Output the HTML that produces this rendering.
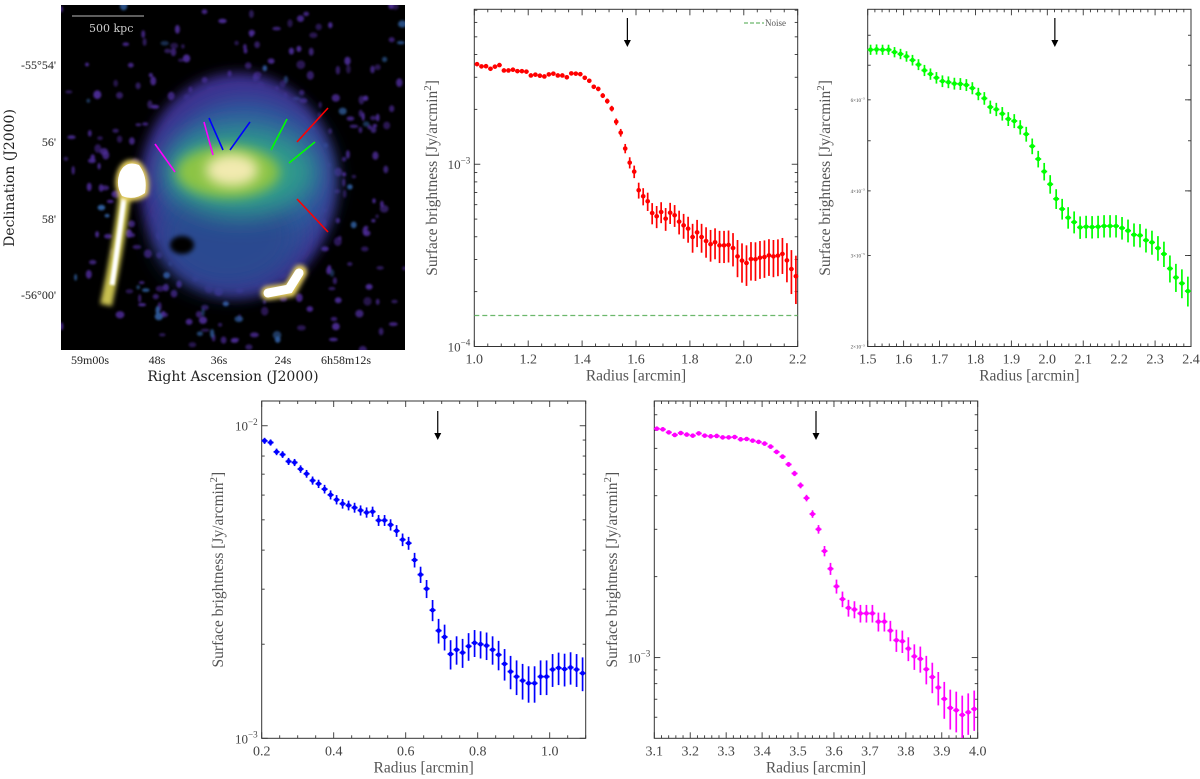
<!DOCTYPE html>
<html><head><meta charset="utf-8"><style>
html,body{margin:0;padding:0;background:#fff;}
svg{display:block;}
text{font-family:"Liberation Serif","DejaVu Serif",serif;}
</style></head><body>
<svg id="fig" width="1200" height="779" viewBox="0 0 1200 779" xmlns="http://www.w3.org/2000/svg">
<defs>
<filter id="b6" x="-50%" y="-50%" width="200%" height="200%"><feGaussianBlur stdDeviation="6"/></filter>
<filter id="b12" x="-50%" y="-50%" width="200%" height="200%"><feGaussianBlur stdDeviation="12"/></filter>
<filter id="b3" x="-50%" y="-50%" width="200%" height="200%"><feGaussianBlur stdDeviation="2.5"/></filter>
<filter id="b1" x="-50%" y="-50%" width="200%" height="200%"><feGaussianBlur stdDeviation="1"/></filter>
<clipPath id="imgclip"><rect x="61" y="5" width="344" height="345"/></clipPath>
</defs>
<g>
 <rect x="61" y="5" width="344" height="345" fill="#000"/>
 <g clip-path="url(#imgclip)">
  <g id="speckles" filter="url(#b1)"></g>
  <ellipse cx="238" cy="185" rx="98" ry="112" fill="#3d2f8e" filter="url(#b6)"/>
  <ellipse cx="245" cy="180" rx="85" ry="82" fill="#2d5a9e" filter="url(#b12)"/>
  <ellipse cx="228" cy="235" rx="70" ry="55" fill="#2c4a90" filter="url(#b12)"/>
  <ellipse cx="240" cy="172" rx="75" ry="45" fill="#2f9a8c" filter="url(#b12)"/>
  <ellipse cx="228" cy="172" rx="52" ry="26" fill="#8cc445" filter="url(#b6)"/>
  <ellipse cx="232" cy="170" rx="26" ry="16" fill="#f2eab0" filter="url(#b6)"/>
  <ellipse cx="182" cy="245" rx="12" ry="9" fill="#000" filter="url(#b3)"/>
  <g>
   <path d="M125 195 Q 118 250 106 305" stroke="#c8c050" stroke-width="12" fill="none" filter="url(#b3)"/>
   <path d="M124 198 Q 118 245 112 285" stroke="#fff" stroke-width="5" fill="none" filter="url(#b1)"/>
   <path d="M118 170 Q 125 155 140 162 Q 152 175 148 195 Q 135 205 120 198 Q 112 185 118 170 Z" fill="#e8d060" filter="url(#b3)"/>
   <path d="M120 172 Q 126 160 139 165 Q 148 177 145 193 Q 134 201 122 196 Q 115 185 120 172 Z" fill="#fff"/>
  </g>
  <g>
   <path d="M268 293 L 290 290 L 300 272" stroke="#e8d060" stroke-width="14" fill="none" stroke-linecap="round" filter="url(#b3)"/>
   <path d="M268 293 L 289 289 L 299 273" stroke="#fff" stroke-width="9" fill="none" stroke-linecap="round"/>
  </g>
  <g stroke-width="1.6">
   <line x1="155" y1="144" x2="175" y2="172" stroke="#ff00ff"/>
   <line x1="204" y1="122" x2="213" y2="155" stroke="#ff00ff"/>
   <line x1="209" y1="118" x2="223" y2="150" stroke="#0000ff"/>
   <line x1="230" y1="150" x2="250" y2="122" stroke="#0000ff"/>
   <line x1="271" y1="150" x2="287" y2="119" stroke="#00ff00"/>
   <line x1="289" y1="163" x2="315" y2="142" stroke="#00ff00"/>
   <line x1="297" y1="142" x2="328" y2="108" stroke="#ff0000"/>
   <line x1="297" y1="199" x2="328" y2="232" stroke="#ff0000"/>
  </g>
  <line x1="72" y1="16" x2="144" y2="16" stroke="#bbb" stroke-width="1"/>
  <text x="89" y="32" font-size="11" fill="#ccc" style="font-family:'DejaVu Serif',serif">500 kpc</text>
 </g>
 <g font-size="12" text-anchor="end" fill="#222" style="font-family:'DejaVu Serif',serif">
  <text x="56" y="69">-55°54'</text><text x="56" y="146">56'</text><text x="56" y="223">58'</text><text x="56" y="299">-56°00'</text>
 </g>
 <g font-size="12" text-anchor="middle" fill="#222" style="font-family:'DejaVu Serif',serif">
  <text x="90" y="364">59m00s</text><text x="157" y="364">48s</text><text x="219" y="364">36s</text><text x="283" y="364">24s</text><text x="346" y="364">6h58m12s</text>
 </g>
 <text x="233" y="381" font-size="14" text-anchor="middle" fill="#222" style="font-family:'DejaVu Serif',serif">Right Ascension (J2000)</text>
 <text transform="translate(14,178) rotate(-90)" font-size="14" text-anchor="middle" fill="#222" style="font-family:'DejaVu Serif',serif">Declination (J2000)</text>
</g>
<g id="charts"></g>
</svg>
<script>
// ---- data (surface brightness, Jy/arcmin^2 in units of 1e-3) ----
const redR0 = 1.01, redStep = 1/60;
const redSB = [3.54,3.44,3.45,3.34,3.43,3.50,3.27,3.27,3.30,3.24,3.24,3.22,3.07,3.10,3.06,3.03,3.11,3.14,3.07,3.07,3.00,3.15,3.14,3.12,2.98,2.87,2.66,2.59,2.38,2.22,2.02,1.71,1.49,1.22,1.02,0.911,0.72,0.667,0.626,0.54,0.518,0.547,0.503,0.542,0.525,0.484,0.462,0.443,0.399,0.423,0.399,0.379,0.364,0.373,0.359,0.359,0.361,0.347,0.312,0.296,0.287,0.302,0.301,0.307,0.31,0.316,0.312,0.315,0.322,0.297,0.266,0.243];
const redErr = [0.072];
const redNoise = [0.148];
const redJump = [1.568];

const greenR0 = 1.508, greenStep = 1/60;
const greenSB = [7.50,7.51,7.50,7.50,7.42,7.36,7.28,7.16,7.02,6.84,6.73,6.62,6.52,6.49,6.45,6.44,6.41,6.32,6.16,6.04,5.81,5.75,5.64,5.51,5.46,5.31,5.15,4.88,4.61,4.36,4.12,3.86,3.69,3.55,3.48,3.40,3.41,3.405,3.41,3.42,3.42,3.42,3.39,3.35,3.29,3.28,3.21,3.18,3.10,3.02,2.83,2.72,2.65,2.56];
const greenErr = [0.17];
const greenJump = [2.021];

const blueR0 = 0.208, blueStep = 1/60;
const blueSB = [8.95,8.84,8.25,8.09,7.69,7.63,7.27,7.02,6.68,6.52,6.27,6.01,5.80,5.63,5.56,5.47,5.36,5.28,5.31,4.98,4.98,4.82,4.61,4.32,4.21,3.72,3.34,3.01,2.57,2.21,2.11,1.86,1.92,1.88,1.97,2.02,2.00,1.98,1.92,1.85,1.73,1.635,1.575,1.53,1.50,1.50,1.575,1.575,1.66,1.68,1.665,1.685,1.66,1.615];
const blueErr = [0.2];
const blueJump = [0.689];

const magR0 = 3.107, magStep = 1/60;
const magSB = [7.10,7.06,6.88,6.73,6.84,6.75,6.69,6.82,6.69,6.65,6.67,6.59,6.59,6.61,6.48,6.50,6.41,6.34,6.25,6.09,5.82,5.59,5.23,4.84,4.37,3.92,3.42,3.00,2.49,2.14,1.84,1.65,1.53,1.51,1.46,1.46,1.46,1.36,1.36,1.26,1.16,1.15,1.08,1.01,0.989,0.905,0.847,0.774,0.702,0.650,0.637,0.612,0.626,0.644];
const magErr = [0.11];
const magJump = [3.55];

const NS = 'http://www.w3.org/2000/svg';
const root = document.getElementById('charts');
function mk(tag, attrs, parent){ const e = document.createElementNS(NS, tag); for (const k in attrs) e.setAttribute(k, attrs[k]); (parent||root).appendChild(e); return e; }

// decorative speckle texture for the radio image (deterministic)
(function(){
  const sp = document.getElementById('speckles');
  let s = 12345;
  const rnd = () => { s = (s*1103515245 + 12345) % 2147483648; return s/2147483648; };
  for (let i=0;i<520;i++){
    const x = 61 + rnd()*344, y = 5 + rnd()*345;
    const d = Math.hypot((x-238)/150, (y-185)/165);
    const p = d < 1 ? 0.85 : 0.35;
    if (rnd() > p) continue;
    const e = mk('ellipse',{cx:x.toFixed(1),cy:y.toFixed(1),rx:(1.5+rnd()*3).toFixed(1),ry:(1.5+rnd()*3).toFixed(1),fill: rnd()<0.15 ? '#2f5b9a' : '#4a2a92',opacity:(0.5+rnd()*0.5).toFixed(2)}, sp);
  }
})();

function powLabel(g, x, y, base, exp, anchor, size){
  const t = mk('text', {x:x, y:y, 'font-size':size, 'text-anchor':anchor, fill:'#444'}, g);
  
  
  const a = document.createElementNS(NS,'tspan'); a.textContent = base; t.appendChild(a);
  const b = document.createElementNS(NS,'tspan'); b.setAttribute('dy', -size*0.45); b.setAttribute('font-size', size*0.7); b.textContent = exp; t.appendChild(b);
  return t;
}

function panel(c){
  const g = mk('g', {});
  
  
  const X = v => c.L + (v - c.x0)/(c.x1 - c.x0)*(c.R - c.L);
  const Y = v => c.B - (Math.log10(v) - Math.log10(c.y0))/(Math.log10(c.y1) - Math.log10(c.y0))*(c.B - c.T);
  const frame = mk('rect', {x:c.L, y:c.T, width:c.R-c.L, height:c.B-c.T, fill:'none', stroke:'#333', 'stroke-width':1}, g);
  
  
  const tg = mk('g', {stroke:'#333','stroke-width':0.9}, g);
  
  
  const nmin = Math.round((c.x1-c.x0)/c.xminor);
  for (let i=0;i<=nmin;i++){
    const v = c.x0 + i*c.xminor, x = X(v);
    const major = Math.abs((v - c.x0)/c.xmajor - Math.round((v - c.x0)/c.xmajor)) < 1e-6;
    const len = major ? 6 : 3;
    mk('line',{x1:x,y1:c.B,x2:x,y2:c.B-len},tg); mk('line',{x1:x,y1:c.T,x2:x,y2:c.T+len},tg);
    if (major){
      const t = mk('text',{x:x,y:c.B+17,'font-size':14,'text-anchor':'middle',fill:'#444',stroke:'none'},g);
      
      
      t.textContent = v.toFixed(1);
    }
  }
  for (let e=-5;e<=-1;e++){
    for (let m=1;m<=9;m++){
      const v = m*Math.pow(10,e);
      if (v < c.y0*0.999 || v > c.y1*1.001) continue;
      const y = Y(v);
      const major = m===1;
      const len = major ? 6 : 3;
      mk('line',{x1:c.L,y1:y,x2:c.L+len,y2:y},tg); mk('line',{x1:c.R,y1:y,x2:c.R-len,y2:y},tg);
      if (c.sciLabels && c.sciLabels.indexOf(m)>=0){
        mk('line',{x1:c.R,y1:y,x2:c.R-6,y2:y},tg);
        powLabel(g, c.L-3, y+2, m+'×10', String(e).replace('-','−'), 'end', 5);
      } else if (major){
        powLabel(g, c.L-4, y+5, '10', String(e).replace('-','−'), 'end', 13);
      }
    }
  }
  const dg = mk('g', {fill:c.color, stroke:c.color}, g);
  
  
  const hw = (X(c.r0 + c.step) - X(c.r0))/2;
  c.sb.forEach((v,i)=>{
    const r = c.r0 + i*c.step;
    const val = v*1e-3, er = c.err*1e-3;
    const x = X(r), y = Y(val);
    const yl = Y(Math.max(val-er, c.y0*0.5)), yh = Y(val+er);
    const pt = mk('g', {}, dg);
    
    
    mk('line',{x1:x,y1:Math.min(yl,c.B),x2:x,y2:yh,'stroke-width':1.7},pt);
    mk('line',{x1:x-hw,y1:y,x2:x+hw,y2:y,'stroke-width':1.7},pt);
    mk('circle',{cx:x,cy:y,r:2.3,stroke:'none'},pt);
  });
  const ax = X(c.jump);
  const ar = mk('g', {}, g);
  
  
  mk('line',{x1:ax,y1:c.arrowTop,x2:ax,y2:c.arrowTop+24,stroke:'#000','stroke-width':1.2},ar);
  mk('path',{d:`M${ax-3.5} ${c.arrowTop+22} L${ax+3.5} ${c.arrowTop+22} L${ax} ${c.arrowTop+29} Z`,fill:'#000'},ar);
  const xl = mk('text',{x:(c.L+c.R)/2,y:c.B+34,'font-size':15.5,'text-anchor':'middle',fill:'#555'},g);
  
  
  xl.textContent = 'Radius [arcmin]';
  const yl = mk('text',{transform:`translate(${c.ylx},${(c.T+c.B)/2}) rotate(-90)`,'font-size':15.5,'text-anchor':'middle',fill:'#555'},g);
  
  
  const t1 = document.createElementNS(NS,'tspan'); t1.textContent='Surface brightness [Jy/arcmin'; yl.appendChild(t1);
  const t2 = document.createElementNS(NS,'tspan'); t2.setAttribute('dy',-6); t2.setAttribute('font-size',11); t2.textContent='2'; yl.appendChild(t2);
  const t3 = document.createElementNS(NS,'tspan'); t3.setAttribute('dy',6); t3.textContent=']'; yl.appendChild(t3);
  return {g, X, Y};
}

const red = panel({name:'red-profile-panel', series:'red', color:'#ff0000', L:474.3,R:797.7,T:9.3,B:346.5, x0:1.0,x1:2.2,xmajor:0.2,xminor:0.05, y0:1e-4,y1:7.08e-3, r0:redR0, step:redStep, sb:redSB, err:redErr[0], jump:redJump[0], arrowTop:18, ylx:437});
const ny = red.Y(redNoise[0]*1e-3);
const nl = mk('line',{x1:474.3,y1:ny,x2:797.7,y2:ny,stroke:'#6cb86c','stroke-width':1.3,'stroke-dasharray':'5,3'},red.g);


const lg = mk('g',{},red.g);


mk('line',{x1:744,y1:23,x2:764,y2:23,stroke:'#6cb86c','stroke-width':1.3,'stroke-dasharray':'4,2'},lg);
const lt = mk('text',{x:765,y:26,'font-size':9,fill:'#555'},lg); lt.textContent='Noise';

panel({name:'green-profile-panel', series:'green', color:'#00ff00', L:867.7,R:1191,T:9.3,B:346.5, x0:1.5,x1:2.4,xmajor:0.1,xminor:0.02, y0:2e-3,y1:8.98e-3, sciLabels:[2,3,4,6], r0:greenR0, step:greenStep, sb:greenSB, err:greenErr[0], jump:greenJump[0], arrowTop:18, ylx:830});

panel({name:'blue-profile-panel', series:'blue', color:'#0000ff', L:261.7,R:585.7,T:401,B:738.3, x0:0.2,x1:1.1,xmajor:0.2,xminor:0.05, y0:1e-3,y1:1.2e-2, r0:blueR0, step:blueStep, sb:blueSB, err:blueErr[0], jump:blueJump[0], arrowTop:411, ylx:223});

panel({name:'magenta-profile-panel', series:'magenta', color:'#ff00ff', L:654.3,R:977.7,T:401,B:738.3, x0:3.1,x1:4.0,xmajor:0.1,xminor:0.02, y0:5.01e-4,y1:9.0e-3, r0:magR0, step:magStep, sb:magSB, err:magErr[0], jump:magJump[0], arrowTop:411, ylx:617});
</script>
</body></html>
